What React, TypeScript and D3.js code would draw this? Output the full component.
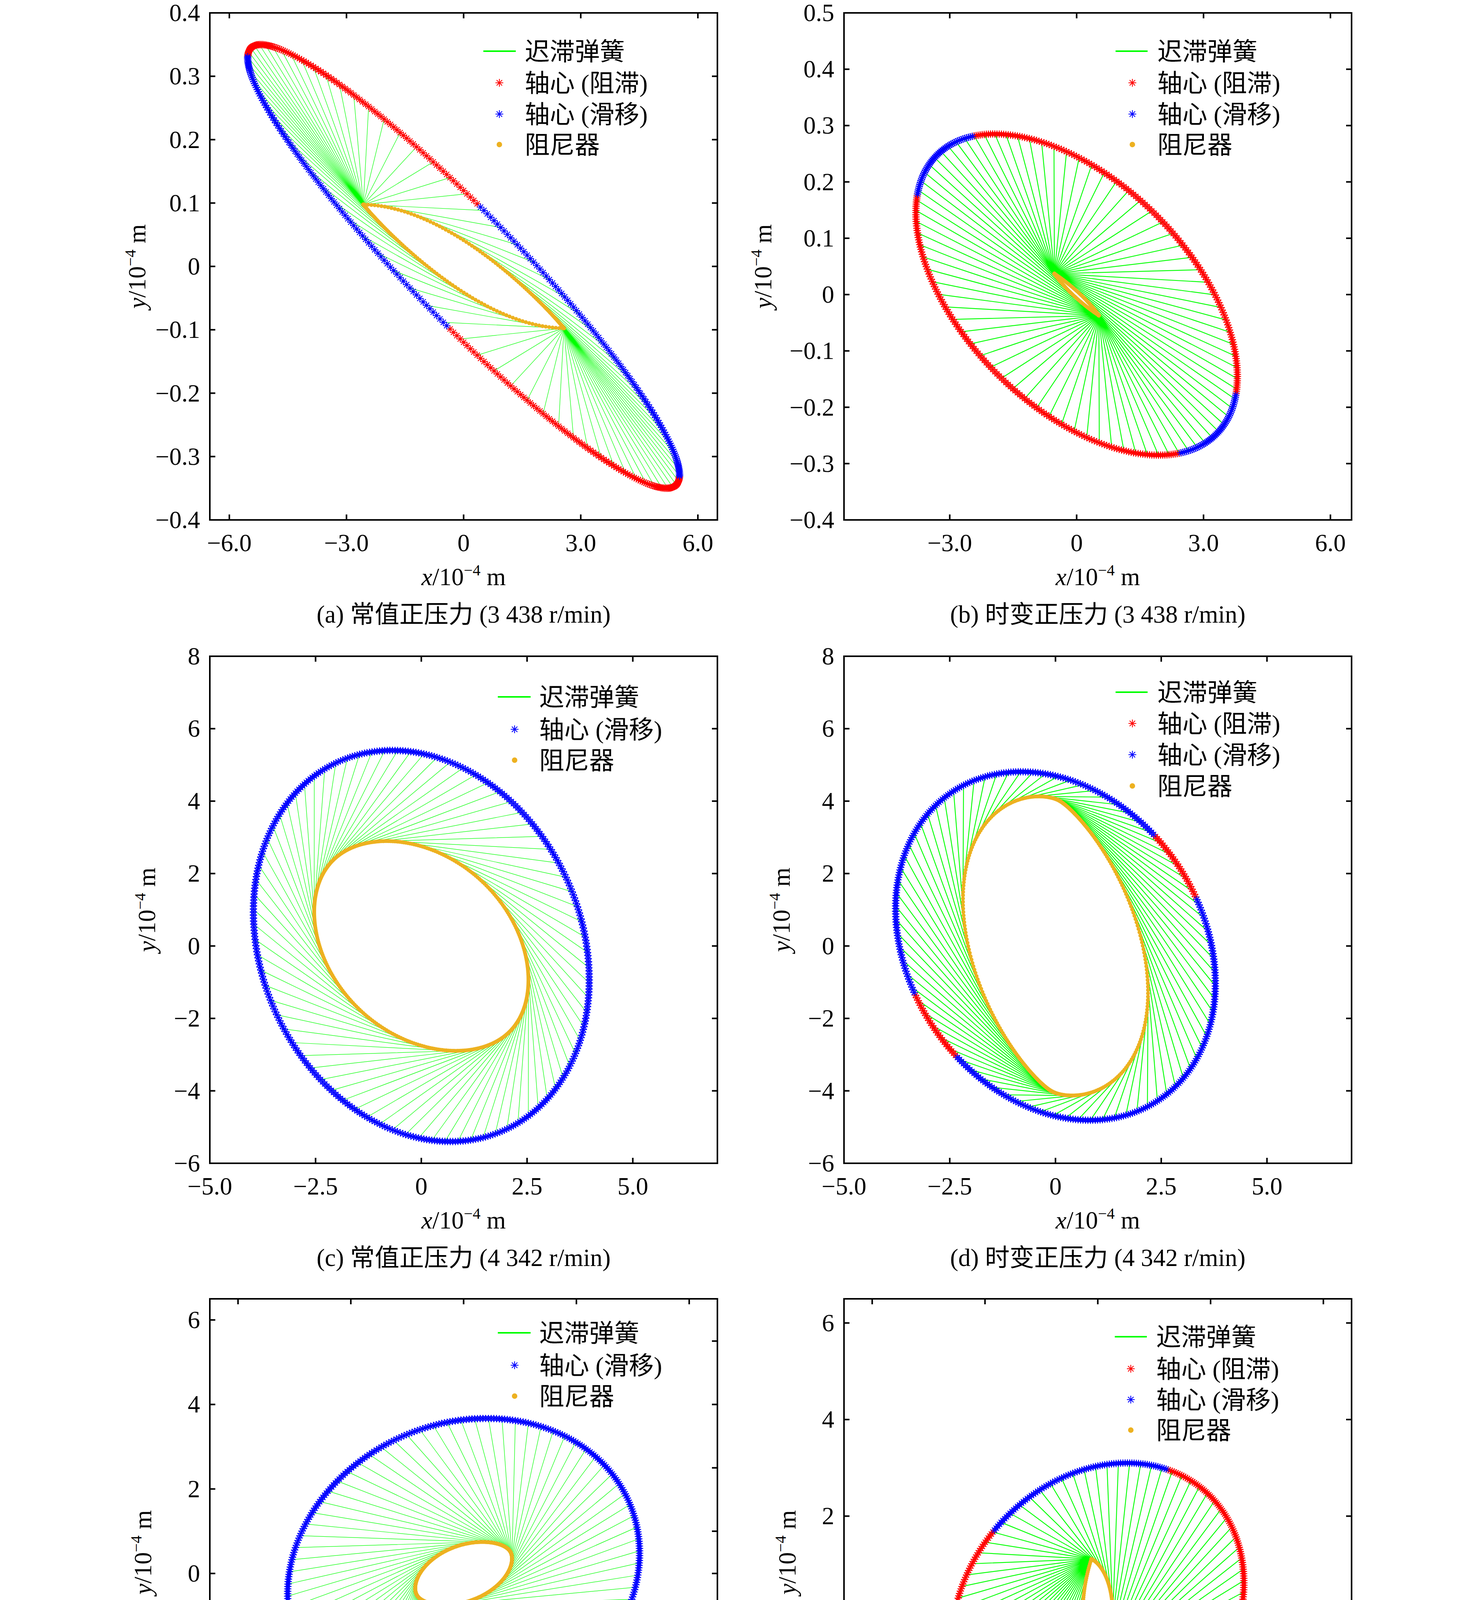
import React, { useMemo } from "react";
import * as d3 from "d3";

// ---- chart values ----
const captions = [
  "(a) 常值正压力 (3 438 r/min)",
  "(b) 时变正压力 (3 438 r/min)",
  "(c) 常值正压力 (4 342 r/min)",
  "(d) 时变正压力 (4 342 r/min)",
  "(e) 常值正压力 (4 641 r/min)",
  "(f) 时变正压力 (4 641 r/min)",
];

const xDomains: [number, number][] = [[-6.5, 6.5], [-5.5, 6.5], [-5, 7], [-5, 7], [-4.5, 4.5], [-4.5, 4.5]];
const yDomains: [number, number][] = [[-0.4, 0.4], [-0.4, 0.5], [-6, 8], [-6, 8], [-5.5, 6.5], [-4, 6.5]];

const xTickValues = [
  [-6, -3, 0, 3, 6],
  [-3, 0, 3, 6],
  [-5, -2.5, 0, 2.5, 5],
  [-5, -2.5, 0, 2.5, 5],
  [-4, -2, 0, 2, 4],
  [-4, -2, 0, 2, 4],
];
const yTickValues = [
  [-0.4, -0.3, -0.2, -0.1, 0, 0.1, 0.2, 0.3, 0.4],
  [-0.4, -0.3, -0.2, -0.1, 0, 0.1, 0.2, 0.3, 0.4, 0.5],
  [-6, -4, -2, 0, 2, 4, 6, 8],
  [-6, -4, -2, 0, 2, 4, 6, 8],
  [-4, -2, 0, 2, 4, 6],
  [-4, -2, 0, 2, 4, 6],
];
// panel (e) carries odd tick marks on its right spine
const yTickRightValues: (number[] | null)[] = [null, null, null, null, [-4, -2.5, -1, 0, 1, 2.5, 4, 5.5], null];
const xDigits = [1, 1, 1, 1, 0, 0];
const yDigits = [1, 1, 0, 0, 0, 0];

// shaft orbit: x = ax cos t, y = ay cos(t + phase)   (10^-4 m, deg)
const shaftAmpX = [5.53, 3.8, 3.97, 3.78, 3.12, 2.59];
const shaftAmpY = [0.35, 0.285, 5.4, 4.81, 3.67, 3.1];
const shaftPhaseDeg = [160, 120.7, 100, 102.4, -82.5, -78.5];

// hysteresis spring reach r = r0 - r1 cos(2(t - tm)), constant where r1 = 0
const springReach = [2.97, 3.016, 3.75, 3.4, 3.28, 3.27];
const springReachSwing = [0, 1.758, 0, 2.0, 0, 1.52];
const springReachPhaseDeg = [0, 256, 0, 276, 0, 126.3];
// damper speed (share of its peak) below which the journal counts as stuck
const stickSpeedShare = [0, 0, 0, 0.1, 0, 0];

const hasStickEntry = [true, true, false, true, false, true];
const legendLabels = ["迟滞弹簧", "轴心 (阻滞)", "轴心 (滑移)", "阻尼器"];

// ---- layout ----
const W = 3780;
const H = 4903;
const FRAME_W = 1299;
const FRAME_H = 1298;
const colX = [537, 2160];
const rowY = [33, 1680, 3325];
const yLabelOffset = [-186, -207, -161, -160, -171, -145];
const legendLayout = [
  { line: [700, 783], marker: 741, text: 806, rows: [98, 179, 259, 337] },
  { line: [695, 777], marker: 738, text: 802, rows: [98, 179, 259, 337] },
  { line: [737, 821], marker: 780, text: 843, rows: [104, 187, 266] },
  { line: [695, 777], marker: 738, text: 802, rows: [92, 172, 252, 332] },
  { line: [737, 821], marker: 780, text: 843, rows: [87, 170, 249] },
  { line: [693, 775], marker: 734, text: 799, rows: [97, 179, 258, 336] },
];

const FONT = '"Liberation Serif", "Times New Roman", "Noto Sans CJK SC", serif';
const FS = 63;
const GREEN = "#00ff00";
const RED = "#ff0000";
const BLUE = "#0000ff";
const ORANGE = "#edb120";

const STEPS = 400;
const SUB = 12;
const CYCLES = 8;
const SPRING_EVERY = 5;

interface State { sx: number; sy: number; dx: number; dy: number; slip: boolean }

function simulate(i: number): State[] {
  const ax = shaftAmpX[i], ay = shaftAmpY[i];
  const phi = (shaftPhaseDeg[i] * Math.PI) / 180;
  const r0 = springReach[i], r1 = springReachSwing[i];
  const tm = (springReachPhaseDeg[i] * Math.PI) / 180;
  let dx = 0, dy = 0;
  const raw: { sx: number; sy: number; dx: number; dy: number; v: number }[] = [];
  const total = STEPS * CYCLES;
  for (let k = 1; k <= total; k++) {
    let moved = 0;
    let sx = 0, sy = 0;
    for (let j = 1; j <= SUB; j++) {
      const th = ((k - 1 + j / SUB) * 2 * Math.PI) / STEPS;
      sx = ax * Math.cos(th);
      sy = ay * Math.cos(th + phi);
      const r = r0 - r1 * Math.cos(2 * (th - tm));
      const ex = sx - dx, ey = sy - dy;
      const dist = Math.hypot(ex, ey);
      if (dist > r) {
        const nx = sx - (r * ex) / dist, ny = sy - (r * ey) / dist;
        moved += Math.hypot(nx - dx, ny - dy);
        dx = nx;
        dy = ny;
      }
    }
    if (k > total - STEPS) raw.push({ sx, sy, dx, dy, v: moved });
  }
  const vmax = d3.max(raw, (s) => s.v) || 1;
  const limit = Math.max(1e-7, stickSpeedShare[i] * vmax);
  return raw.map((s) => ({ sx: s.sx, sy: s.sy, dx: s.dx, dy: s.dy, slip: s.v > limit }));
}

const fmt = (v: number, d: number) => (v === 0 ? "0" : v.toFixed(d).replace("-", "−"));

function asterisk(cx: number, cy: number, h: number) {
  const a = h * 0.7071;
  return `M${cx - h},${cy}H${cx + h}M${cx},${cy - h}V${cy + h}M${cx - a},${cy - a}L${cx + a},${cy + a}M${cx - a},${cy + a}L${cx + a},${cy - a}`;
}

function AxisLabel({ v }: { v: string }) {
  return (
    <>
      <tspan fontStyle="italic">{v}</tspan>
      <tspan>/10</tspan>
      <tspan fontSize={40} dy={-25}>−4</tspan>
      <tspan dy={25}> m</tspan>
    </>
  );
}

function Panel({ i }: { i: number }) {
  const col = i % 2, row = Math.floor(i / 2);
  const left = colX[col], top = rowY[row];
  const x = d3.scaleLinear().domain(xDomains[i]).range([left, left + FRAME_W]);
  const y = d3.scaleLinear().domain(yDomains[i]).range([top + FRAME_H, top]);
  const states = useMemo(() => simulate(i), [i]);
  const thin = i % 2 === 0;

  const springPath = states
    .filter((_, k) => k % SPRING_EVERY === 0)
    .map((s) => `M${x(s.dx)},${y(s.dy)}L${x(s.sx)},${y(s.sy)}`)
    .join("");
  const stickPath = states.filter((s) => !s.slip).map((s) => asterisk(x(s.sx), y(s.sy), 9.5)).join("");
  const slipPath = states.filter((s) => s.slip).map((s) => asterisk(x(s.sx), y(s.sy), 9.5)).join("");

  const tick = 14;
  const right = left + FRAME_W, bottom = top + FRAME_H;
  const lg = legendLayout[i];
  const entries = hasStickEntry[i] ? [0, 1, 2, 3] : [0, 2, 3];

  return (
    <g>
      <path d={springPath} stroke={GREEN} strokeWidth={thin ? 1.2 : 2.2} fill="none" />
      <path d={stickPath} stroke={RED} strokeWidth={2.2} fill="none" />
      <path d={slipPath} stroke={BLUE} strokeWidth={2.2} fill="none" />
      {states.map((s, k) => (
        <circle key={k} cx={x(s.dx)} cy={y(s.dy)} r={5} fill={ORANGE} />
      ))}
      {i === 4 && <rect x={left + 681} y={top + 71} width={600} height={226} fill="#fff" />}

      {/* frame and ticks */}
      <rect x={left} y={top} width={FRAME_W} height={FRAME_H} fill="none" stroke="#000" strokeWidth={4} />
      {xTickValues[i].map((v) => (
        <g key={"x" + v}>
          <line x1={x(v)} x2={x(v)} y1={bottom} y2={bottom - tick} stroke="#000" strokeWidth={4} />
          <line x1={x(v)} x2={x(v)} y1={top} y2={top + tick} stroke="#000" strokeWidth={4} />
          <text x={x(v)} y={bottom + 80} textAnchor="middle" fontSize={FS}>{fmt(v, xDigits[i])}</text>
        </g>
      ))}
      {yTickValues[i].map((v) => (
        <g key={"y" + v}>
          <line x1={left} x2={left + tick} y1={y(v)} y2={y(v)} stroke="#000" strokeWidth={4} />
          {!yTickRightValues[i] && (
            <line x1={right} x2={right - tick} y1={y(v)} y2={y(v)} stroke="#000" strokeWidth={4} />
          )}
          <text x={left - 25} y={y(v) + 21} textAnchor="end" fontSize={FS}>{fmt(v, yDigits[i])}</text>
        </g>
      ))}
      {(yTickRightValues[i] || []).map((v) => (
        <line key={"r" + v} x1={right} x2={right - tick} y1={y(v)} y2={y(v)} stroke="#000" strokeWidth={4} />
      ))}

      {/* axis labels and caption */}
      <text x={left + FRAME_W / 2} y={bottom + 167} textAnchor="middle" fontSize={FS}>
        <AxisLabel v="x" />
      </text>
      <text
        transform={`translate(${left + yLabelOffset[i] + 21},${top + FRAME_H / 2}) rotate(-90)`}
        textAnchor="middle"
        fontSize={FS}
      >
        <AxisLabel v="y" />
      </text>
      <text x={left + FRAME_W / 2} y={bottom + 263} textAnchor="middle" fontSize={FS}>
        {captions[i]}
      </text>

      {/* legend */}
      {entries.map((e, r) => {
        const cy = top + lg.rows[r];
        return (
          <g key={"l" + e}>
            {e === 0 && (
              <line x1={left + lg.line[0]} x2={left + lg.line[1]} y1={cy} y2={cy} stroke={GREEN} strokeWidth={4} />
            )}
            {e === 1 && <path d={asterisk(left + lg.marker, cy, 10)} stroke={RED} strokeWidth={2} />}
            {e === 2 && <path d={asterisk(left + lg.marker, cy, 10)} stroke={BLUE} strokeWidth={2} />}
            {e === 3 && <circle cx={left + lg.marker} cy={cy} r={7} fill={ORANGE} />}
            <text x={left + lg.text} y={cy + 23} fontSize={FS + 1}>{legendLabels[e]}</text>
          </g>
        );
      })}
    </g>
  );
}

export default function App() {
  return (
    <svg
      width={W}
      height={H}
      viewBox={`0 0 ${W} ${H}`}
      style={{ position: "absolute", left: 0, top: 0, background: "#fff" }}
      fontFamily={FONT}
    >
      <rect width={W} height={H} fill="#fff" />
      {[0, 1, 2, 3, 4, 5].map((i) => (
        <Panel key={i} i={i} />
      ))}
    </svg>
  );
}
